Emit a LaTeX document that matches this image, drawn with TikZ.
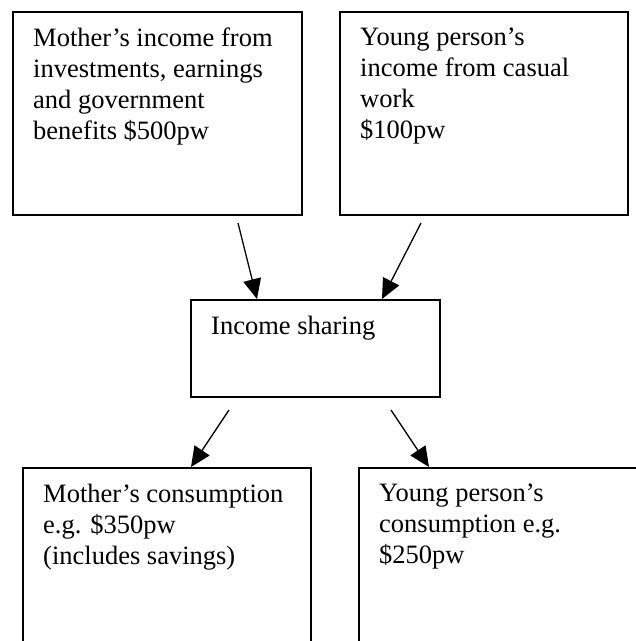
\documentclass[tikz,border=0pt]{standalone}
\usepackage{fontspec}
\setmainfont{Liberation Serif}
\usetikzlibrary{arrows.meta,calc}
\begin{document}
\begin{tikzpicture}[x=1pt,y=-1pt,
  box/.style={draw,line width=1.7pt,rectangle,inner sep=0pt,anchor=north west},
  txt/.style={anchor=north west,inner sep=0pt,align=left,font=\fontsize{26.5}{31}\selectfont},
  arr/.style={line width=1.3pt,-{Triangle[length=20pt,width=18pt]}}]
\useasboundingbox (0,0) rectangle (636,641);
\clip (0,0) rectangle (636,641);
\node[box,minimum width=289pt,minimum height=203pt] (b1) at (12,11) {};
\node[box,minimum width=288pt,minimum height=203pt] (b2) at (339,11) {};
\node[box,minimum width=249pt,minimum height=97pt] (mid) at (190,299) {};
\node[box,minimum width=288pt,minimum height=200pt] (b3) at (22,467) {};
\node[box,minimum width=300pt,minimum height=200pt] (b4) at (358,467) {};
\node[txt] (t1) at ($(b1.north west)+(21,17)$) {Mother’s income from\\investments, earnings\\and government\\benefits \$500pw};
\node[txt] (t2) at ($(b2.north west)+(21,17)$) {Young person’s\\income from casual\\work\\\$100pw};
\node[txt] (tm) at ($(mid.north west)+(21,17)$) {Income sharing};
\node[txt] (t3) at ($(b3.north west)+(21,17)$) {Mother’s consumption\\e.g. \$350pw\\(includes savings)};
\node[txt] (t4) at ($(b4.north west)+(21,17)$) {Young person’s\\consumption e.g.\\\$250pw};
\coordinate (s1) at (238,223);
\coordinate (s2) at (421,223);
\coordinate (s3) at (229,410);
\coordinate (s4) at (391,410);
\draw[arr] (s1) -- ($(mid.north west)+(67,0)$);
\draw[arr] (s2) -- ($(mid.north west)+(192,0)$);
\draw[arr] (s3) -- ($(b3.north west)+(169,0)$);
\draw[arr] (s4) -- ($(b4.north west)+(71,0)$);
\end{tikzpicture}
\end{document}
